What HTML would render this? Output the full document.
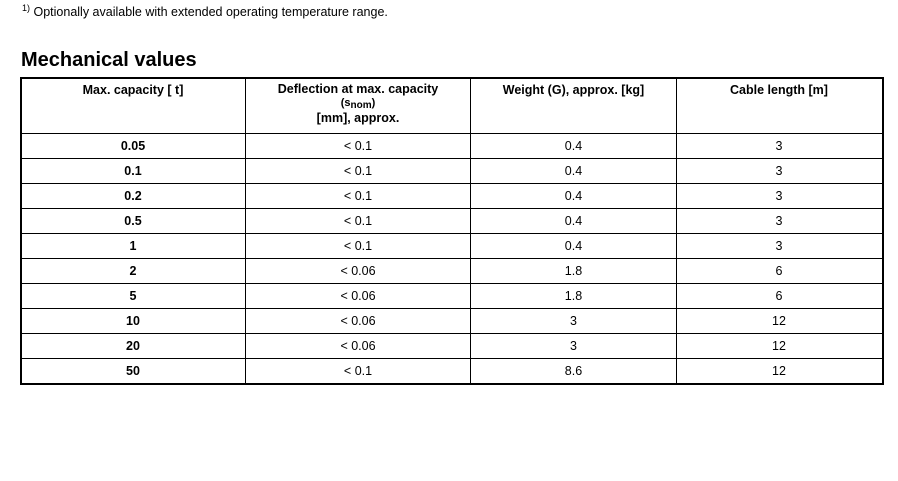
<!DOCTYPE html>
<html><head><meta charset="utf-8"><style>
body{margin:0;width:898px;height:481px;background:#fff;font-family:"Liberation Sans",Arial,sans-serif;color:#000;position:relative;overflow:hidden}
.fn{position:absolute;left:22px;top:3px;font-size:12.5px}
.fn sup{font-size:9px;vertical-align:5px}
h1{position:absolute;left:21px;top:49px;margin:0;font-size:20px;font-weight:bold}
.tb{position:absolute;left:20px;top:77px;width:860px;height:304px;border:2px solid #000}
.h{position:absolute;background:#000}
.c{position:absolute;text-align:center;font-size:12.5px;line-height:25px}
.hd{position:absolute;text-align:center;font-size:12.5px;font-weight:bold;line-height:14px;top:83px}
</style></head><body>
<div class="fn"><sup>1)</sup> Optionally available with extended operating temperature range.</div>
<h1>Mechanical values</h1>
<div class="tb"></div>
<div class="h" style="left:245px;top:78px;width:1px;height:305px"></div>
<div class="h" style="left:470px;top:78px;width:1px;height:305px"></div>
<div class="h" style="left:676px;top:78px;width:1px;height:305px"></div>
<div class="hd" style="left:21px;width:224px">Max. capacity [ t]</div>
<div class="hd" style="left:246px;width:224px;line-height:13px">Deflection at max. capacity<br><span style="font-size:11px">(s<sub style="font-size:10px;vertical-align:-2px">nom</sub>)</span><br>[mm], approx.</div>
<div class="hd" style="left:471px;width:205px">Weight (G), approx. [kg]</div>
<div class="hd" style="left:677px;width:204px">Cable length [m]</div>
<div id="rows"></div>
<script>
var d=[["0.05","< 0.1","0.4","3"],["0.1","< 0.1","0.4","3"],["0.2","< 0.1","0.4","3"],["0.5","< 0.1","0.4","3"],["1","< 0.1","0.4","3"],["2","< 0.06","1.8","6"],["5","< 0.06","1.8","6"],["10","< 0.06","3","12"],["20","< 0.06","3","12"],["50","< 0.1","8.6","12"]];
var cols=[[21,224],[246,224],[471,205],[677,204]],h="";
for(var i=0;i<d.length;i++){var y=133+i*25;
h+='<div class="h" style="left:21px;top:'+y+'px;width:861px;height:1px"></div>';
for(var j=0;j<4;j++)h+='<div class="c" style="left:'+cols[j][0]+'px;width:'+cols[j][1]+'px;top:'+(y+1)+'px;'+(j==0?'font-weight:bold':'')+'">'+d[i][j].replace('<','&lt;')+'</div>';}
document.getElementById('rows').innerHTML=h;
</script>
</body></html>
